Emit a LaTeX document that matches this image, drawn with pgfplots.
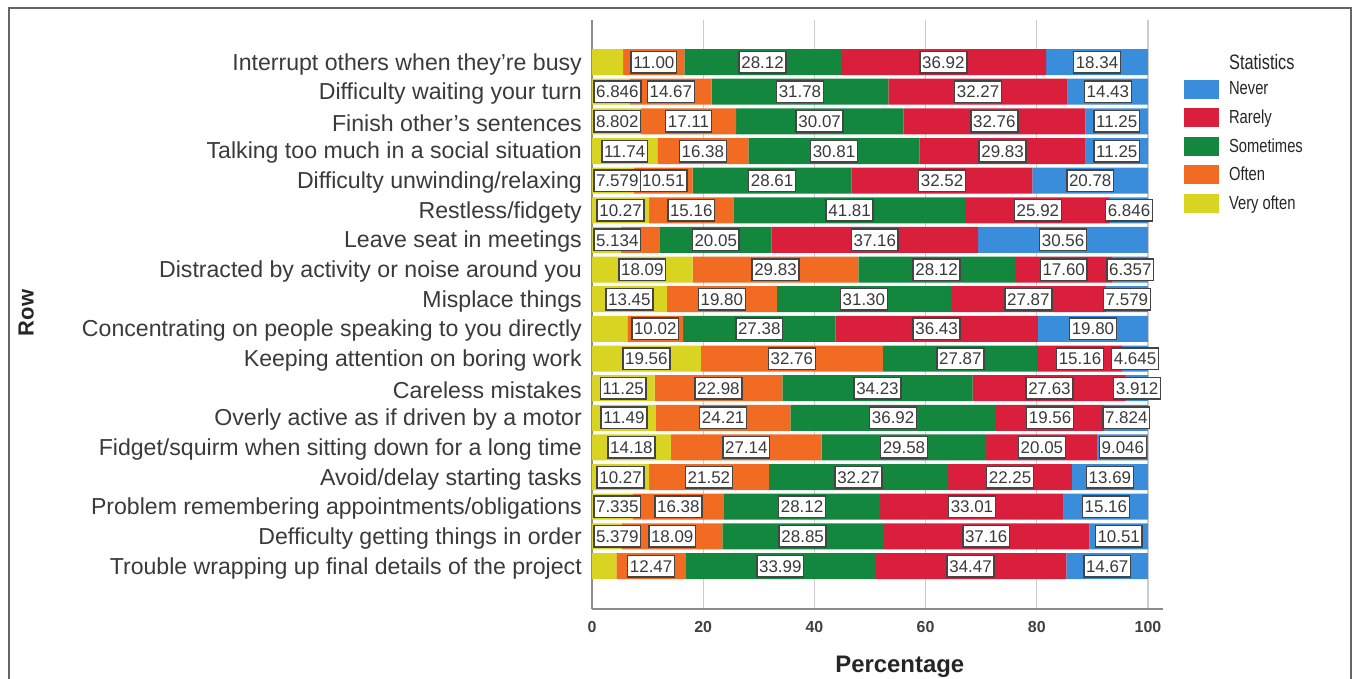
\documentclass[border=0pt]{standalone}
\usepackage{pgfplots}
\usepackage{pgfplotstable}
\pgfplotsset{compat=1.18}
\usepackage{fontspec}
\setmainfont{Liberation Sans}
\newfontfamily\legfont[FakeStretch=0.78]{Liberation Sans}

\definecolor{cNever}{HTML}{3A8DDA}
\definecolor{cRarely}{HTML}{DA1F3D}
\definecolor{cSome}{HTML}{13873D}
\definecolor{cOften}{HTML}{F26B22}
\definecolor{cVO}{HTML}{D9D321}
\definecolor{txt}{HTML}{3A3A3A}
\definecolor{lblframe}{HTML}{444444}

% label box, "none" means no label on that segment
\def\nolbl{none}
\newcommand\lbl{\edef\lbltmp{\pgfplotspointmeta}%
  \ifx\lbltmp\nolbl\else
  \setlength\fboxrule{1.5bp}\setlength\fboxsep{1.5bp}%
  \fcolorbox{lblframe}{white}{\rule[-2.4bp]{0pt}{17bp}\lbltmp}\fi}

% dx: push the label right so its box stays inside the axis
\pgfplotstableread{
row value label dx
0  5.62  none  0
1  6.846 6.846 6.3
2  8.802 8.802 0.8
3  11.74 11.74 0
4  7.579 7.579 4.2
5  10.27 10.27 0
6  5.134 5.134 11
7  18.09 18.09 0
8  13.45 13.45 0
9  6.37  none  0
10 19.56 19.56 0
11 11.25 11.25 0
12 11.49 11.49 0
13 14.18 14.18 0
14 10.27 10.27 0
15 7.335 7.335 4.9
16 5.379 5.379 10.3
17 4.40  none  0
}\veryoften

\pgfplotstableread{
row value label
0  11.00 11.00
1  14.67 14.67
2  17.11 17.11
3  16.38 16.38
4  10.51 10.51
5  15.16 15.16
6  7.096 none
7  29.83 29.83
8  19.80 19.80
9  10.02 10.02
10 32.76 32.76
11 22.98 22.98
12 24.21 24.21
13 27.14 27.14
14 21.52 21.52
15 16.38 16.38
16 18.09 18.09
17 12.47 12.47
}\often

\pgfplotstableread{
row value label
0  28.12 28.12
1  31.78 31.78
2  30.07 30.07
3  30.81 30.81
4  28.61 28.61
5  41.81 41.81
6  20.05 20.05
7  28.12 28.12
8  31.30 31.30
9  27.38 27.38
10 27.87 27.87
11 34.23 34.23
12 36.92 36.92
13 29.58 29.58
14 32.27 32.27
15 28.12 28.12
16 28.85 28.85
17 33.99 33.99
}\sometimes

\pgfplotstableread{
row value label
0  36.92 36.92
1  32.27 32.27
2  32.76 32.76
3  29.83 29.83
4  32.52 32.52
5  25.92 25.92
6  37.16 37.16
7  17.60 17.60
8  27.87 27.87
9  36.43 36.43
10 15.16 15.16
11 27.63 27.63
12 19.56 19.56
13 20.05 20.05
14 22.25 22.25
15 33.01 33.01
16 37.16 37.16
17 34.47 34.47
}\rarely

\pgfplotstableread{
row value label
0  18.34 18.34
1  14.43 14.43
2  11.25 11.25
3  11.25 11.25
4  20.78 20.78
5  6.846 6.846
6  30.56 30.56
7  6.357 6.357
8  7.579 7.579
9  19.80 19.80
10 4.645 4.645
11 3.912 3.912
12 7.824 7.824
13 9.046 9.046
14 13.69 13.69
15 15.16 15.16
16 10.51 10.51
17 14.67 14.67
}\never

\begin{document}
\begin{tikzpicture}
\useasboundingbox (0bp,0bp) rectangle (1353bp,679bp);
\draw[line width=2bp, black!60] (9bp,-10bp) -- (9bp,671bp) -- (1351bp,671bp) -- (1351bp,-10bp);
\begin{axis}[
  at={(592bp,70bp)}, anchor=south west,
  scale only axis, width=571bp, height=589bp,
  xbar stacked, bar width=26bp,
  xmin=0, xmax=102.7,
  ymin=-1.42, ymax=18.45, y dir=reverse,
  axis x line*=bottom, axis y line*=left,
  axis line style={black!45, line width=1.5bp},
  xtick={0,20,...,100}, major tick length=0pt,
  xmajorgrids, grid style={black!20, line width=1.2bp},
  ytick={0,...,17},
  yticklabels={Interrupt others when they’re busy, Difficulty waiting your turn,
    Finish other’s sentences, Talking too much in a social situation,
    Difficulty unwinding/relaxing, Restless/fidgety, Leave seat in meetings,
    Distracted by activity or noise around you, Misplace things,
    Concentrating on people speaking to you directly, Keeping attention on boring work,
    Careless mistakes, Overly active as if driven by a motor,
    Fidget/squirm when sitting down for a long time, Avoid/delay starting tasks,
    Problem remembering appointments/obligations, Defficulty getting things in order,
    Trouble wrapping up final details of the project},
  yticklabel style={font=\fontsize{23.2}{24}\selectfont, text=txt, inner sep=0pt, xshift=-10bp, yshift=-2bp},
  xticklabel style={font=\bfseries\fontsize{16}{16}\selectfont, text=black!75, inner sep=0pt, yshift=-12bp},
  /pgf/number format/assume math mode=true,
  xlabel={Percentage},
  xlabel style={font=\bfseries\fontsize{24}{24}\selectfont, text=black!85,
    at={(axis description cs:0.539,-0.107)}, anchor=base},
  ylabel={Row},
  ylabel style={font=\bfseries\fontsize{22}{22}\selectfont, text=black!85,
    at={(axis description cs:-0.991,0.5025)}, anchor=center, rotate=0},
  point meta=explicit symbolic,
  nodes near coords={\lbl},
  every node near coord/.append style={font=\fontsize{17}{17}\selectfont, text=txt,
    anchor=center, inner sep=0pt},
  clip=false,
  reverse legend,
  legend cell align=left,
  legend style={at={(1.0368,0.907)}, anchor=north west, draw=none, fill=none,
    inner sep=0pt, outer sep=0pt, row sep=0pt,
    font=\legfont\fontsize{19}{19}\selectfont, text=black!85,
    nodes={inner sep=0pt, minimum height=28.5bp},
    /tikz/every odd column/.append style={column sep=10bp}},
  seg/.style={draw=none, legend image code/.code={\fill[##1] (0bp,-9.5bp) rectangle (35bp,9.5bp);}},
]
\addplot[seg, fill=cVO, visualization depends on={\thisrow{dx} \as \dx},
  every node near coord/.append style={xshift=\dx bp}]
  table[x=value, y=row, meta=label] {\veryoften};
\addplot[seg, fill=cOften] table[x=value, y=row, meta=label] {\often};
\addplot[seg, fill=cSome] table[x=value, y=row, meta=label] {\sometimes};
\addplot[seg, fill=cRarely] table[x=value, y=row, meta=label] {\rarely};
\addplot[seg, fill=cNever] table[x=value, y=row, meta=label] {\never};
\legend{Very often, Often, Sometimes, Rarely, Never}
\end{axis}
\node[anchor=west, inner sep=0pt, text=black!85] at (1229bp,617bp) {\legfont\fontsize{21}{21}\selectfont Statistics};
\end{tikzpicture}
\end{document}
